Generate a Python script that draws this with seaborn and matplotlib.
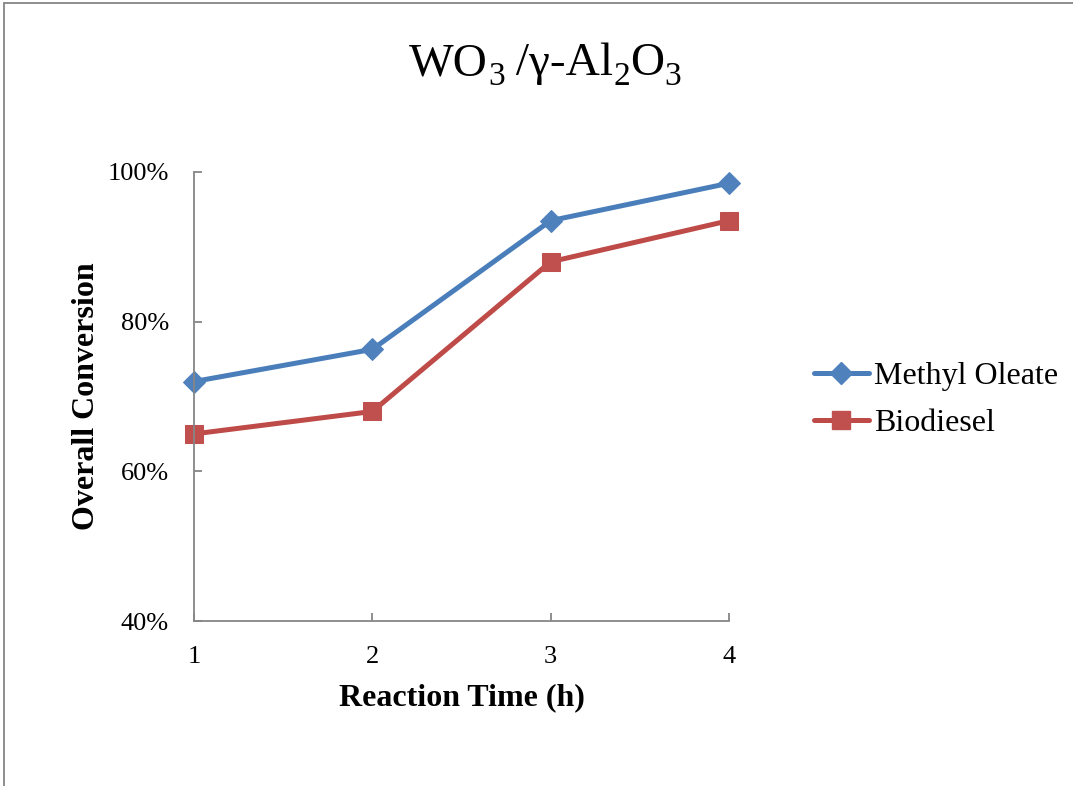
import matplotlib
matplotlib.use("Agg")
import matplotlib.pyplot as plt
import seaborn as sns
import pandas as pd
from matplotlib.lines import Line2D
from matplotlib.ticker import FuncFormatter

# Data
reaction_time = [1, 2, 3, 4]
methyl_oleate = [72.0, 76.3, 93.5, 98.5]
biodiesel = [65.0, 68.0, 88.0, 93.5]
series_names = ["Methyl Oleate", "Biodiesel"]
y_ticks = [40, 60, 80, 100]
title_parts = [("WO", False), ("3", True), (" /γ-Al", False), ("2", True), ("O", False), ("3", True)]

sns.set_style("white")
plt.rcParams["font.family"] = ["Liberation Serif", "DejaVu Serif"]
plt.rcParams["text.color"] = "black"
plt.rcParams["axes.labelcolor"] = "black"

df = pd.DataFrame({
    "time": reaction_time * 2,
    "conv": methyl_oleate + biodiesel,
    "series": [series_names[0]] * 4 + [series_names[1]] * 4,
})

fig = plt.figure(figsize=(10.73, 7.86), dpi=100)
ax = fig.add_axes([194/1073, 1 - 621/786, (729-194)/1073, (621-172)/786])

line_colors = {"Methyl Oleate": "#4A7EBB", "Biodiesel": "#BE4B48"}
marker_colors = {"Methyl Oleate": "#4F81BD", "Biodiesel": "#C0504D"}
markers = {"Methyl Oleate": "D", "Biodiesel": "s"}
msizes = {"Methyl Oleate": 11, "Biodiesel": 13}

for name in series_names:
    sub = df[df["series"] == name]
    sns.lineplot(data=sub, x="time", y="conv", ax=ax, color=line_colors[name],
                 linewidth=3.6, marker=markers[name], markersize=msizes[name],
                 markerfacecolor=marker_colors[name], markeredgecolor=marker_colors[name],
                 label=name, legend=False)

ax.set_xlim(1, 4)
ax.set_ylim(40, 100)
ax.set_xticks(reaction_time)
ax.set_yticks(y_ticks)
ax.yaxis.set_major_formatter(FuncFormatter(lambda v, p: f"{int(v)}%"))
ax.tick_params(axis="both", direction="in", length=6, width=1.3, color="#868686",
               labelsize=19, labelcolor="black", bottom=True, left=True)
ax.tick_params(axis="y", pad=18)
ax.tick_params(axis="x", pad=18)
for s in ["top", "right"]:
    ax.spines[s].set_visible(False)
for s in ["left", "bottom"]:
    ax.spines[s].set_color("#868686")
    ax.spines[s].set_linewidth(1.3)
for l in ax.lines:
    l.set_clip_on(False)

ax.set_xlabel("Reaction Time (h)", fontsize=23, fontweight="bold", labelpad=11, color="black")
ax.set_ylabel("Overall Conversion", fontsize=23, fontweight="bold", labelpad=5, color="black")

# Title with subscripts, built piece by piece
fig.canvas.draw()
renderer = fig.canvas.get_renderer()
main_size, sub_size = 34, 24
pieces = []
for txt, is_sub in title_parts:
    t = fig.text(0, 0, txt, fontsize=sub_size if is_sub else main_size, ha="left",
                 va="baseline", color="black")
    pieces.append((t, is_sub))
widths = [p[0].get_window_extent(renderer).width for p in pieces]
total = sum(widths)
x0 = 545 - total / 2
base_y = 786 - 75
cx = x0
for (t, is_sub), w in zip(pieces, widths):
    t.set_transform(None)
    t.set_position((cx, base_y - (10 if is_sub else 0)))
    cx += w

handles = [Line2D([], [], color=line_colors[n], linewidth=3.6, marker=markers[n],
                  markersize=msizes[n], markerfacecolor=marker_colors[n],
                  markeredgecolor=marker_colors[n]) for n in series_names]
fig.legend(handles, series_names, loc="center left",
           bbox_to_anchor=(798/1073, 1 - 400/786), frameon=False, fontsize=23,
           handlelength=1.72, handletextpad=0.15, labelspacing=0.55, borderpad=0)

# outer border (left and top edges visible)
fig.add_artist(Line2D([3.5/1073, 3.5/1073], [0, 1 - 3/786], transform=fig.transFigure,
                      color="#868686", linewidth=1.3))
fig.add_artist(Line2D([3.5/1073, 1], [1 - 3/786, 1 - 3/786], transform=fig.transFigure,
                      color="#868686", linewidth=1.3))

fig.savefig("out.png", dpi=100)
